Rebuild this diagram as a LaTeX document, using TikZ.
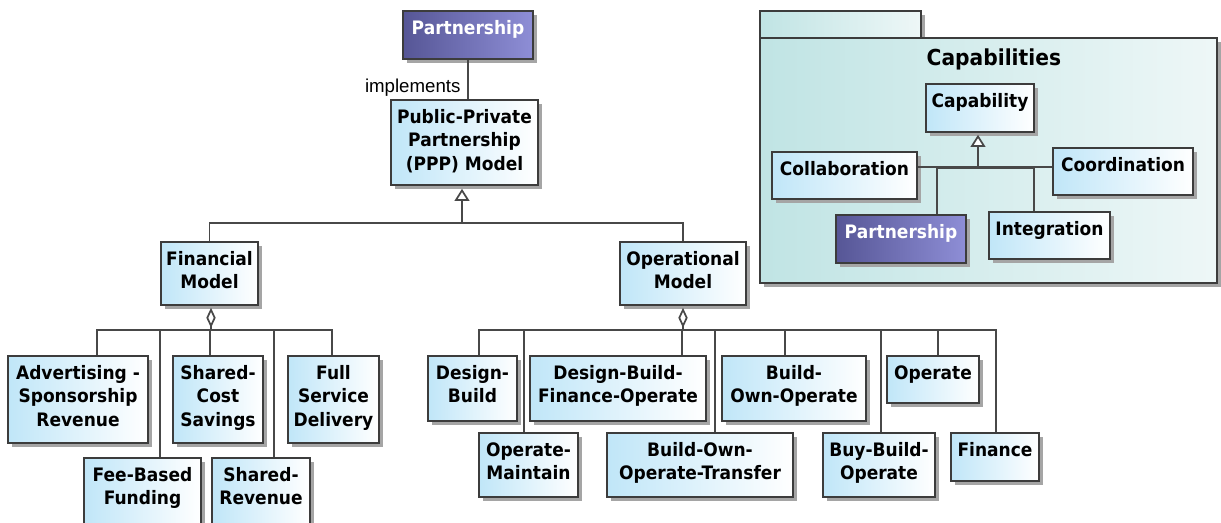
\documentclass[tikz,border=0pt]{standalone}
\usepackage{fontspec}
\setmainfont{DejaVu Sans}
\newfontfamily\boxfont[FakeStretch=0.92]{DejaVu Sans}
\newfontfamily\lblfont{Liberation Sans}
\usetikzlibrary{arrows.meta,shadows,calc}
\definecolor{boxblue}{RGB}{192,230,248}
\definecolor{edgecol}{RGB}{60,60,60}
\definecolor{conncol}{RGB}{72,72,72}
\definecolor{purpleL}{RGB}{86,86,150}
\definecolor{purpleR}{RGB}{142,142,214}
\definecolor{pkgL}{RGB}{192,228,228}
\definecolor{pkgR}{RGB}{238,247,247}
\definecolor{shadowgray}{RGB}{165,165,165}
\begin{document}
\begin{tikzpicture}[x=0.75pt,y=-0.75pt,
  bb/.style args={#1/#2/#3/#4}{minimum width={(#3-#1)*0.75pt}, minimum height={(#4-#2)*0.75pt}, at={({(#1+#3)/2},{(#2+#4)/2})}},
  cls/.style={draw=edgecol, line width=1.2pt, rectangle, inner sep=0pt, left color=boxblue, right color=white,
    drop shadow={shadow xshift=3pt, shadow yshift=-3pt, fill=shadowgray, opacity=1}},
  purp/.style={cls, left color=purpleL, right color=purpleR},
  pkgbox/.style={cls, left color=pkgL, right color=pkgR},
  boxtext/.style={font=\boxfont\bfseries\fontsize{13.9pt}{17.5pt}\selectfont, align=center, anchor=north, inner sep=0pt, yshift=-7.5pt},
  txt/.style={label={[boxtext]north:#1}},
  ptxt/.style={label={[boxtext, text=white]north:#1}},
  conn/.style={draw=conncol, line width=1.3pt},
  gen/.style={conn, -{Triangle[open, fill=white, width=11pt, length=9pt]}},
  agg/.style={conn, -{Diamond[open, fill=white, width=7pt, length=15pt]}}
]
\useasboundingbox (0,0) rectangle (1221,522);

% Capabilities package
\node[pkgbox, bb=760/11/921/38] (pkgtab) {};
\node[pkgbox, bb=760/38/1217/283,
  label={[font=\boxfont\bfseries\fontsize{16.5pt}{20pt}\selectfont, anchor=north, inner sep=0pt, yshift=-8.5pt, xshift=4pt]north:Capabilities}] (pkg) {};

\node[cls, bb=926/84/1034/132, txt={Capability}] (capab) {};
\node[cls, bb=772/152/917/199, txt={Collaboration}] (collab) {};
\node[cls, bb=1053/148/1193/195, txt={Coordination}] (coord) {};
\node[purp, bb=836/215/966/263, ptxt={Partnership}] (cpart) {};
\node[cls, bb=989/212/1110/259, txt={Integration}] (integ) {};

% main tree
\node[purp, bb=403/11/533/59, ptxt={Partnership}] (p1) {};
\node[cls, bb=391/100/538/185, txt={Public-Private\\Partnership\\(PPP) Model}] (ppp) {};
\node[cls, bb=161/242/258/305, txt={Financial\\Model}] (fin) {};
\node[cls, bb=620/242/746/305, txt={Operational\\Model}] (op) {};

\node[cls, bb=8/356/148/443, txt={Advertising -\\Sponsorship\\Revenue}] (adv) {};
\node[cls, bb=84/458/201/526, txt={Fee-Based\\Funding}] (fee) {};
\node[cls, bb=173/356/263/443, txt={Shared-\\Cost\\Savings}] (scs) {};
\node[cls, bb=212/458/310/526, txt={Shared-\\Revenue}] (srev) {};
\node[cls, bb=288/356/379/443, txt={Full\\Service\\Delivery}] (fsd) {};

\node[cls, bb=428/356/517/421, txt={Design-\\Build}] (db) {};
\node[cls, bb=479/433/578/497, txt={Operate-\\Maintain}] (om) {};
\node[cls, bb=530/356/706/421, txt={Design-Build-\\Finance-Operate}] (dbfo) {};
\node[cls, bb=607/433/793/497, txt={Build-Own-\\Operate-Transfer}] (boot) {};
\node[cls, bb=722/356/866/421, txt={Build-\\Own-Operate}] (boo) {};
\node[cls, bb=823/433/935/497, txt={Buy-Build-\\Operate}] (bbo) {};
\node[cls, bb=887/356/979/403, txt={Operate}] (opr) {};
\node[cls, bb=951/433/1039/481, txt={Finance}] (finc) {};

% implements
\draw[conn] (p1.south) -- node[pos=0.7, anchor=east, inner sep=2pt, xshift=-3pt, font=\lblfont\fontsize{14pt}{16pt}\selectfont] (impl) {implements} (p1.south |- ppp.north);

% generalization PPP
\coordinate (gj) at (462,223);
\draw[conn] (fin.north) |- (gj) -| (op.north);
\draw[gen] (gj) -- ($(gj |- ppp.south)+(0,3)$);

% financial aggregation
\coordinate (fj) at (211,330);
\draw[agg] (fj) -- ($(fj |- fin.south)+(0,2)$);
\draw[conn] (fj) -| ($(adv.north west)+(90,0)$);
\draw[conn] (fj) -| ($(fee.north west)+(77,0)$);
\draw[conn] (fj) -| ($(scs.north west)+(38,0)$);
\draw[conn] (fj) -| ($(srev.north west)+(63,0)$);
\draw[conn] (fj) -| ($(fsd.north west)+(45,0)$);

% operational aggregation
\coordinate (oj) at (683,330);
\draw[agg] (oj) -- ($(oj |- op.south)+(0,2)$);
\draw[conn] (oj) -| ($(db.north west)+(52,0)$);
\draw[conn] (oj) -| ($(om.north west)+(46,0)$);
\draw[conn] (oj) -| ($(dbfo.north west)+(153,0)$);
\draw[conn] (oj) -| ($(boot.north west)+(109,0)$);
\draw[conn] (oj) -| ($(boo.north west)+(64,0)$);
\draw[conn] (oj) -| ($(bbo.north west)+(59,0)$);
\draw[conn] (oj) -| ($(opr.north west)+(52,0)$);
\draw[conn] (oj) -| ($(finc.north west)+(46,0)$);

% capabilities generalization
\coordinate (cj) at (978,168);
\draw[conn] ($(collab.north east)+(0,16)$) -- ($(coord.north west)+(0,20)$);
\draw[gen] (cj) -- ($(cj |- capab.south)+(0,2)$);
\draw[conn] (cj) -| ($(cpart.north west)+(102,0)$);
\draw[conn] (cj) -| ($(integ.north west)+(46,0)$);
\end{tikzpicture}
\end{document}
